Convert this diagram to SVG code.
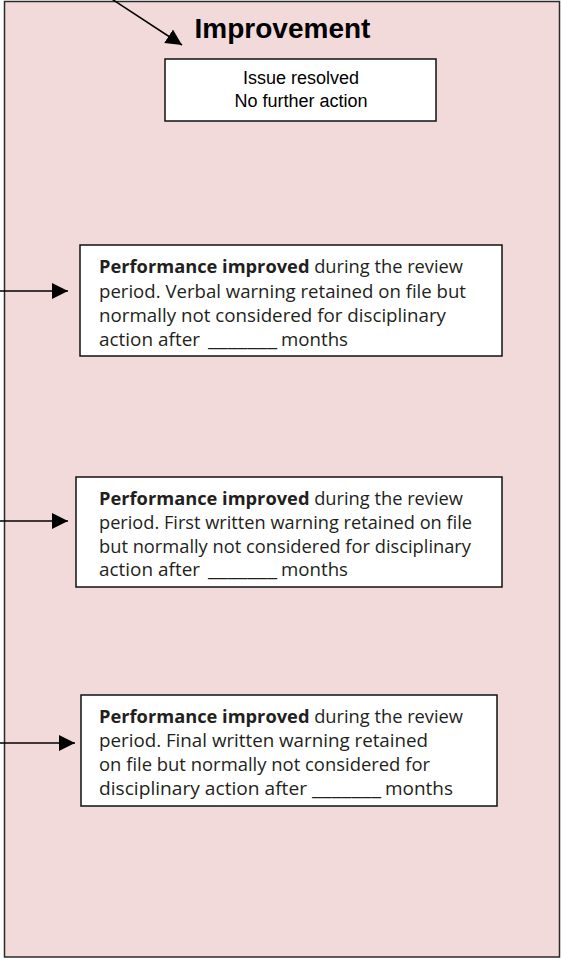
<svg xmlns="http://www.w3.org/2000/svg" width="561" height="959" viewBox="0 0 561 959">
  <style>
    .frame { fill: #f2d9da; stroke: #2a2a2a; stroke-width: 1.5; }
    .box { fill: #ffffff; stroke: #111111; stroke-width: 1.5; }
    .title { font-family: "Liberation Sans", Arial, sans-serif; font-weight: bold; font-size: 28px; fill: #000; }
    .simple { font-family: "Liberation Sans", Arial, sans-serif; font-size: 18px; fill: #000; }
    .body { font-family: "Open Sans", "Noto Sans", sans-serif; font-size: 18px; fill: #231f20; }
    .b { font-weight: bold; }
    .conn { stroke: #000; stroke-width: 1.5; fill: none; }
  </style>
  <defs>
    <marker id="arrow" viewBox="0 0 16 16" refX="16" refY="8" markerWidth="16" markerHeight="16" markerUnits="userSpaceOnUse" orient="auto">
      <path d="M0,0 L16,8 L0,16 Z" fill="#000"/>
    </marker>
  </defs>

  <g id="improvement-panel">
    <rect class="frame" x="4.5" y="1.5" width="555" height="955.5"/>
    <text class="title" x="282.5" y="38" text-anchor="middle">Improvement</text>
  </g>

  <g id="connectors">
    <line class="conn" x1="111" y1="-1.5" x2="182" y2="45" marker-end="url(#arrow)"/>
    <line class="conn" x1="0" y1="291" x2="68" y2="291" marker-end="url(#arrow)"/>
    <line class="conn" x1="0" y1="521" x2="68" y2="521" marker-end="url(#arrow)"/>
    <line class="conn" x1="0" y1="743" x2="75" y2="743" marker-end="url(#arrow)"/>
  </g>

  <g id="issue-resolved">
    <rect class="box" x="165" y="59" width="271" height="62"/>
    <text class="simple" x="301" y="84" text-anchor="middle">Issue resolved</text>
    <text class="simple" x="301" y="107" text-anchor="middle">No further action</text>
  </g>

  <g id="verbal-warning-improved">
    <rect class="box" x="80" y="245" width="422" height="111"/>
    <text class="body" x="99" y="273" textLength="364" lengthAdjust="spacingAndGlyphs"><tspan class="b">Performance improved</tspan> during the review</text>
    <text class="body" x="99" y="298" textLength="367" lengthAdjust="spacingAndGlyphs">period. Verbal warning retained on file but</text>
    <text class="body" x="99" y="322" textLength="347" lengthAdjust="spacingAndGlyphs">normally not considered for disciplinary</text>
    <text class="body" y="346"><tspan x="99" textLength="101" lengthAdjust="spacingAndGlyphs">action after</tspan><tspan x="208" textLength="69" lengthAdjust="spacingAndGlyphs">_______</tspan><tspan x="281" textLength="67" lengthAdjust="spacingAndGlyphs">months</tspan></text>
  </g>

  <g id="first-written-warning-improved">
    <rect class="box" x="76" y="477" width="426" height="110"/>
    <text class="body" x="99" y="505" textLength="364" lengthAdjust="spacingAndGlyphs"><tspan class="b">Performance improved</tspan> during the review</text>
    <text class="body" x="99" y="529" textLength="373" lengthAdjust="spacingAndGlyphs">period. First written warning retained on file</text>
    <text class="body" x="99" y="553" textLength="372" lengthAdjust="spacingAndGlyphs">but normally not considered for disciplinary</text>
    <text class="body" y="576"><tspan x="99" textLength="101" lengthAdjust="spacingAndGlyphs">action after</tspan><tspan x="208" textLength="69" lengthAdjust="spacingAndGlyphs">_______</tspan><tspan x="281" textLength="67" lengthAdjust="spacingAndGlyphs">months</tspan></text>
  </g>

  <g id="final-written-warning-improved">
    <rect class="box" x="81" y="695" width="416" height="111"/>
    <text class="body" x="99" y="723" textLength="364" lengthAdjust="spacingAndGlyphs"><tspan class="b">Performance improved</tspan> during the review</text>
    <text class="body" x="99" y="747" textLength="329" lengthAdjust="spacingAndGlyphs">period. Final written warning retained</text>
    <text class="body" x="99" y="771" textLength="331" lengthAdjust="spacingAndGlyphs">on file but normally not considered for</text>
    <text class="body" y="795"><tspan x="99" textLength="208" lengthAdjust="spacingAndGlyphs">disciplinary action after</tspan><tspan x="312" textLength="69" lengthAdjust="spacingAndGlyphs">_______</tspan><tspan x="385" textLength="68" lengthAdjust="spacingAndGlyphs">months</tspan></text>
  </g>
</svg>
